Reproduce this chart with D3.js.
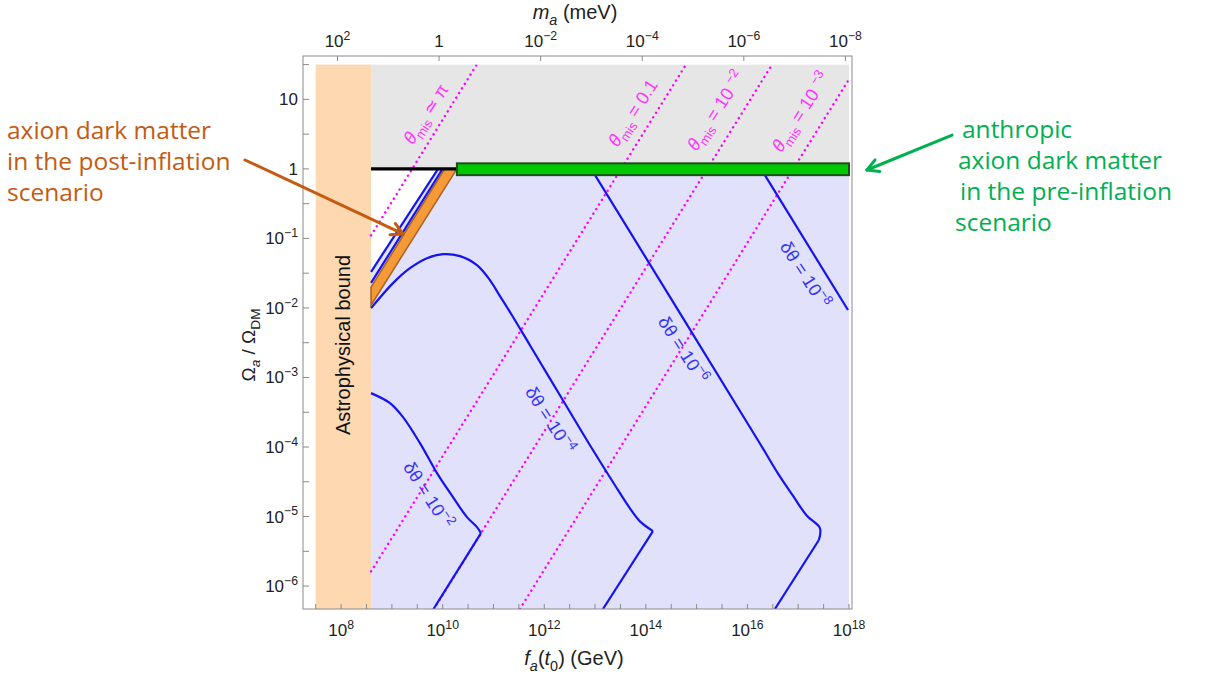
<!DOCTYPE html>
<html><head><meta charset="utf-8">
<script src="https://cdn.jsdelivr.net/npm/d3@7/dist/d3.min.js"></script>
<style>
body{margin:0;background:#fff;}
svg{display:block;}
</style></head><body>
<svg id="chart" width="1205" height="675"></svg>
<script>
// ---------- data: [log10 f_a (GeV), log10 (Ω_a/Ω_DM)] ----------
const xTickExps   = [8, 10, 12, 14, 16, 18];
const xMinorExps  = [7.5, 8.5, 9, 9.5, 10.5, 11, 11.5, 12.5, 13, 13.5, 14.5, 15, 15.5, 16.5, 17, 17.5];
const yTickExps   = [1, 0, -1, -2, -3, -4, -5, -6];
const yTickLabels = [["10",""],["1",""],["10","−1"],["10","−2"],["10","−3"],["10","−4"],["10","−5"],["10","−6"]];
const yMinorExps  = [1.5, 0.5, -0.5, -1.5, -2.5, -3.5, -4.5, -5.5];
const topTickExps = [2, 0, -2, -4, -6, -8];          // m_a in meV
const topTickLabels = [["10","2"],["1",""],["10","−2"],["10","−4"],["10","−6"],["10","−8"]];
const maFaProduct = 8.5e9;                           // m_a·f_a  (meV·GeV)

const domainX = [7.25, 18];
const domainY = [-6.33, 1.5];
const astroBound = [7.5, 8.59];
const dataRight = 18;
const greenBarX = [10.28, 18];
const greenBarY = [-0.09, 0.08];
const blackLine = [[8.59, 0], [10.28, 0]];
const blueLineA = [[8.59, -1.48], [9.91, 0]];
const blueLineB = [[8.59, -1.64], [10.0, 0]];
const orangeBand = [[8.59, -1.70], [10.04, 0], [10.28, 0], [8.59, -1.96]];

const thetaPi   = [[8.59, -0.957], [10.67, 1.5]];
const theta1e1  = [[8.59, -5.79], [14.79, 1.5]];
const theta1e2  = [[9.827, -6.33], [16.485, 1.5]];
const theta1e3  = [[11.52, -6.33], [18, 1.29]];

const dTheta2Curve = [[8.589,-3.225],[8.963,-3.369],[9.219,-3.57],[9.553,-3.944],[9.888,-4.375],[10.203,-4.72],[10.478,-5.008],[10.675,-5.152],[10.754,-5.238]];
const dTheta2Tail  = [[10.754,-5.238],[9.82,-6.33]];
const dTheta4Curve = [[8.59,-2.003],[9.022,-1.643],[9.356,-1.428],[9.691,-1.284],[10.006,-1.226],[10.341,-1.255],[10.675,-1.385],[10.93,-1.6],[11.128,-1.83],[11.364,-2.105],[11.718,-2.536],[12.309,-3.256],[12.9,-3.975],[13.392,-4.55],[13.687,-4.883],[13.884,-5.07],[14.14,-5.21]];
const dTheta4Tail  = [[14.14,-5.21],[13.156,-6.33]];
const dTheta6Curve = [[13.0,-0.09],[16.246,-3.95],[16.6,-4.38],[16.896,-4.70],[17.171,-4.99],[17.427,-5.166],[17.407,-5.338]];
const dTheta6Tail  = [[17.407,-5.338],[16.541,-6.33]];
const dTheta8Line  = [[16.344,-0.09],[17.98,-2.03]];

// ---------- scales ----------
const x = d3.scaleLog().domain(domainX.map(e => 10 ** e)).range([303, 849]);
const y = d3.scaleLog().domain(domainY.map(e => 10 ** e)).range([609, 64.6]);
const X = e => x(10 ** e), Y = e => y(10 ** e);
const frame = {l: 303, r: 852, t: 56, b: 609};

const svg = d3.select("#chart");
const g = svg.append("g");
const lin = d3.line().x(d => X(d[0])).y(d => Y(d[1]));
const smooth = d3.line().x(d => X(d[0])).y(d => Y(d[1])).curve(d3.curveCatmullRom.alpha(0.5));

g.append("defs").append("clipPath").attr("id", "clip")
  .append("rect").attr("x", X(astroBound[0])).attr("y", Y(domainY[1]))
  .attr("width", X(dataRight) - X(astroBound[0])).attr("height", Y(domainY[0]) - Y(domainY[1]));

// regions
g.append("rect").attr("x", X(astroBound[0])).attr("y", Y(domainY[1]))
  .attr("width", X(astroBound[1]) - X(astroBound[0])).attr("height", Y(domainY[0]) - Y(domainY[1]))
  .attr("fill", "#fdd8b0");
g.append("rect").attr("x", X(astroBound[1])).attr("y", Y(domainY[1]))
  .attr("width", X(dataRight) - X(astroBound[1])).attr("height", Y(0) - Y(domainY[1]))
  .attr("fill", "#e6e6e6");
const bluePoly = [blueLineA[0], blueLineA[1], [dataRight, 0], [dataRight, domainY[0]], [astroBound[1], domainY[0]]];
g.append("path").attr("d", lin(bluePoly) + "Z").attr("fill", "#e1e1fb");

const plot = g.append("g").attr("clip-path", "url(#clip)");

// theta_mis dotted lines
[thetaPi, theta1e1, theta1e2, theta1e3].forEach(l => {
  plot.append("path").attr("d", lin(l)).attr("fill", "none")
    .attr("stroke", "#ff00ff").attr("stroke-width", 2.4)
    .attr("stroke-dasharray", "0.1,5.3").attr("stroke-linecap", "round");
});

// delta theta contours
const blue = "#1414f0";
[[dTheta2Curve, smooth], [dTheta2Tail, lin], [dTheta4Curve, smooth], [dTheta4Tail, lin],
 [dTheta6Curve, smooth], [dTheta6Tail, lin], [dTheta8Line, lin], [blueLineA, lin], [blueLineB, lin]]
  .forEach(([pts, gen]) => {
    plot.append("path").attr("d", gen(pts)).attr("fill", "none")
      .attr("stroke", blue).attr("stroke-width", 2.2).attr("stroke-linejoin", "round");
  });

// orange band
plot.append("path").attr("d", lin(orangeBand) + "Z").attr("fill", "#f59a36")
  .attr("stroke", "#a8672a").attr("stroke-width", 1.6);

// black line and green bar
g.append("path").attr("d", lin(blackLine)).attr("stroke", "#000").attr("stroke-width", 3.2);
g.append("rect").attr("x", X(greenBarX[0])).attr("y", Y(greenBarY[1]))
  .attr("width", X(greenBarX[1]) - X(greenBarX[0])).attr("height", Y(greenBarY[0]) - Y(greenBarY[1]))
  .attr("fill", "#00c800").attr("stroke", "#1f4d1f").attr("stroke-width", 2);

// ---------- frame and ticks ----------
const axisCol = "#8a8a8a";
g.append("rect").attr("x", frame.l).attr("y", frame.t).attr("width", frame.r - frame.l)
  .attr("height", frame.b - frame.t).attr("fill", "none").attr("stroke", axisCol).attr("stroke-width", 1);

function rich(sel, parts, fs) {
  let shift = 0;
  parts.forEach(([t, k]) => {
    if (t === "") return;
    const ts = sel.append("tspan").text(t);
    let target = 0, f = fs;
    if (k.includes("sup")) { target = -0.42 * fs; f = fs * 0.72; }
    if (k.includes("sub")) { target = 0.28 * fs; f = fs * 0.72; }
    ts.attr("font-size", f).attr("dy", target - shift);
    shift = target;
    if (k.includes("i")) ts.attr("font-style", "italic");
  });
  return sel;
}
const tickFont = "'Liberation Sans', Arial, sans-serif";
const tickSize = 17;

xMinorExps.concat(xTickExps).forEach(e => {
  g.append("line").attr("x1", X(e)).attr("x2", X(e)).attr("y1", frame.b).attr("y2", frame.b - 5)
    .attr("stroke", axisCol);
});
xTickExps.forEach(e => {
  const t = g.append("text").attr("x", X(e)).attr("y", 636).attr("text-anchor", "middle")
    .attr("font-family", tickFont).attr("fill", "#222");
  rich(t, [["10", ""], [String(e), "sup"]], tickSize);
});
yMinorExps.concat(yTickExps).forEach(e => {
  g.append("line").attr("x1", frame.l).attr("x2", frame.l + 6).attr("y1", Y(e)).attr("y2", Y(e))
    .attr("stroke", axisCol);
});
yTickExps.forEach((e, i) => {
  const t = g.append("text").attr("x", 298).attr("y", Y(e) + 6).attr("text-anchor", "end")
    .attr("font-family", tickFont).attr("fill", "#222");
  rich(t, [[yTickLabels[i][0], ""], [yTickLabels[i][1], "sup"]], tickSize);
});
topTickExps.forEach((m, i) => {
  const px = x(maFaProduct / 10 ** m);
  g.append("line").attr("x1", px).attr("x2", px).attr("y1", frame.t).attr("y2", frame.t + 5).attr("stroke", axisCol);
  const t = g.append("text").attr("x", px).attr("y", 47).attr("text-anchor", "middle")
    .attr("font-family", tickFont).attr("fill", "#222");
  rich(t, [[topTickLabels[i][0], ""], [topTickLabels[i][1], "sup"]], tickSize);
});

// axis titles
rich(g.append("text").attr("x", 574).attr("y", 665).attr("text-anchor", "middle")
  .attr("font-family", tickFont).attr("fill", "#222"),
  [["f", "i"], ["a", "isub"], ["(", ""], ["t", "i"], ["0", "sub"], [") (GeV)", ""]], 20);
rich(g.append("text").attr("x", 575).attr("y", 19).attr("text-anchor", "middle")
  .attr("font-family", tickFont).attr("fill", "#222"),
  [["m", "i"], ["a", "isub"], [" (meV)", ""]], 20);
rich(g.append("text").attr("transform", "translate(255,345) rotate(-90)").attr("text-anchor", "middle")
  .attr("font-family", tickFont).attr("fill", "#222"),
  [["Ω", ""], ["a", "isub"], [" / Ω", ""], ["DM", "sub"]], 19);

// astrophysical bound
g.append("text").attr("transform", `translate(${(X(astroBound[0]) + X(astroBound[1])) / 2 + 7},345) rotate(-90)`)
  .attr("text-anchor", "middle").attr("font-family", tickFont).attr("font-size", 20)
  .attr("fill", "#111").text("Astrophysical bound");

// curve labels
const dLabels = [
  {pos: [9.711, -4.694], parts: [["δθ = 10", ""], ["−2", "sup"]]},
  {pos: [12.112, -3.611], parts: [["δθ = 10", ""], ["−4", "sup"]]},
  {pos: [14.73, -2.603], parts: [["δθ = 10", ""], ["−6", "sup"]]},
  {pos: [17.132, -1.524], parts: [["δθ = 10", ""], ["−8", "sup"]]}
];
dLabels.forEach(d => {
  rich(g.append("text").attr("transform", `translate(${X(d.pos[0])},${Y(d.pos[1])}) rotate(57)`)
    .attr("text-anchor", "middle").attr("font-family", tickFont).attr("fill", "#3434f5")
    .attr("y", 6), d.parts, 18);
});
const tLabels = [
  {pos: [9.671, 0.79], parts: [["θ", "i"], ["mis", "sub"], [" ≃ π", ""]]},
  {pos: [13.746, 0.804], parts: [["θ", "i"], ["mis", "sub"], [" = 0.1", ""]]},
  {pos: [15.38, 0.833], parts: [["θ", "i"], ["mis", "sub"], [" = 10 ", ""], ["−2", "sup"]]},
  {pos: [17.053, 0.818], parts: [["θ", "i"], ["mis", "sub"], [" = 10 ", ""], ["−3", "sup"]]}
];
tLabels.forEach(d => {
  rich(g.append("text").attr("transform", `translate(${X(d.pos[0])},${Y(d.pos[1])}) rotate(-57)`)
    .attr("text-anchor", "middle").attr("font-family", tickFont).attr("fill", "#ff33ff")
    .attr("y", 6), d.parts, 18);
});

// ---------- annotations ----------
const annFont = "'Open Sans', 'Noto Sans', sans-serif";
const brown = "#c55a11", green = "#00b050";
const annSize = 24.5;
const leftLines = ["axion dark matter", "in the post-inflation", "scenario"];
const leftBase = [139, 170, 201];
leftLines.forEach((s, i) => g.append("text").attr("x", 7).attr("y", leftBase[i])
  .attr("font-family", annFont).attr("font-size", annSize).attr("fill", brown).text(s));
const rightLines = ["anthropic", "axion dark matter", "in the pre-inflation", "scenario"];
const rightX = [962, 958, 960, 955];
const rightBase = [138, 169, 200, 231];
rightLines.forEach((s, i) => g.append("text").attr("x", rightX[i]).attr("y", rightBase[i])
  .attr("font-family", annFont).attr("font-size", annSize).attr("fill", green).text(s));

function arrow(from, to, col) {
  const x1 = X(from[0]), y1 = Y(from[1]), x2 = X(to[0]), y2 = Y(to[1]);
  const a = Math.atan2(y2 - y1, x2 - x1), L = 13, w = 0.5;
  g.append("line").attr("x1", x1).attr("y1", y1).attr("x2", x2).attr("y2", y2)
    .attr("stroke", col).attr("stroke-width", 3).attr("stroke-linecap", "round");
  const p = [[x2 - L * Math.cos(a - w), y2 - L * Math.sin(a - w)], [x2, y2], [x2 - L * Math.cos(a + w), y2 - L * Math.sin(a + w)]];
  g.append("path").attr("d", d3.line()(p)).attr("fill", "none").attr("stroke", col)
    .attr("stroke-width", 3).attr("stroke-linecap", "round").attr("stroke-linejoin", "round");
}
arrow([6.108, 0.128], [9.218, -0.936], brown);
arrow([20.03, 0.487], [18.352, -0.016], green);
</script>
</body></html>
